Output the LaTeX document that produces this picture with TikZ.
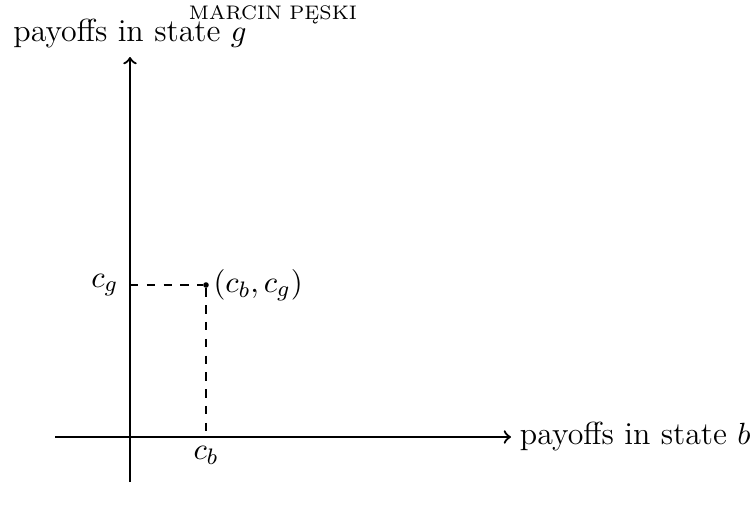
\documentclass[tikz,border=0pt]{standalone}
\usetikzlibrary{arrows}
\begin{document}
\begin{tikzpicture}[x=0.3571pt,y=-0.3571pt,
  axis/.style={thick,->},
  guide/.style={dashed},
  lbl/.style={inner sep=2pt,font=\fontsize{11.4}{13.7}\selectfont}]
\useasboundingbox (0,0) rectangle (754,511);
\coordinate (xs) at (55,437);
\coordinate (xe) at (511,437);
\coordinate (ys) at (130,482);
\coordinate (ye) at (130,57);
\coordinate (gy) at (130,285);
\coordinate (bx) at (206,437);
\node[circle,fill,inner sep=0pt,minimum size=2pt] (p) at (206,285) {};
\draw[axis] (xs) -- (xe);
\draw[axis] (ys) -- (ye);
\draw[guide] (gy) -- (p);
\draw[guide] (p) -- (bx);
\node[lbl,anchor=west,inner sep=3pt] (xl) at (xe) {payoffs in state $b$};
\node[lbl,anchor=south,inner sep=3pt] (yl) at (ye) {payoffs in state $g$};
\node[lbl,anchor=east,inner sep=4pt] (cg) at (gy) {$c_g$};
\node[lbl,anchor=north,inner sep=3pt] (cb) at (bx) {$c_b$};
\node[lbl,anchor=west,inner sep=2.5pt] (pl) at (p) {$(c_b,c_g)$};
\node[inner sep=0pt,anchor=base] (hd) at (273,19) {\scriptsize MARCIN PĘSKI};
\end{tikzpicture}
\end{document}
